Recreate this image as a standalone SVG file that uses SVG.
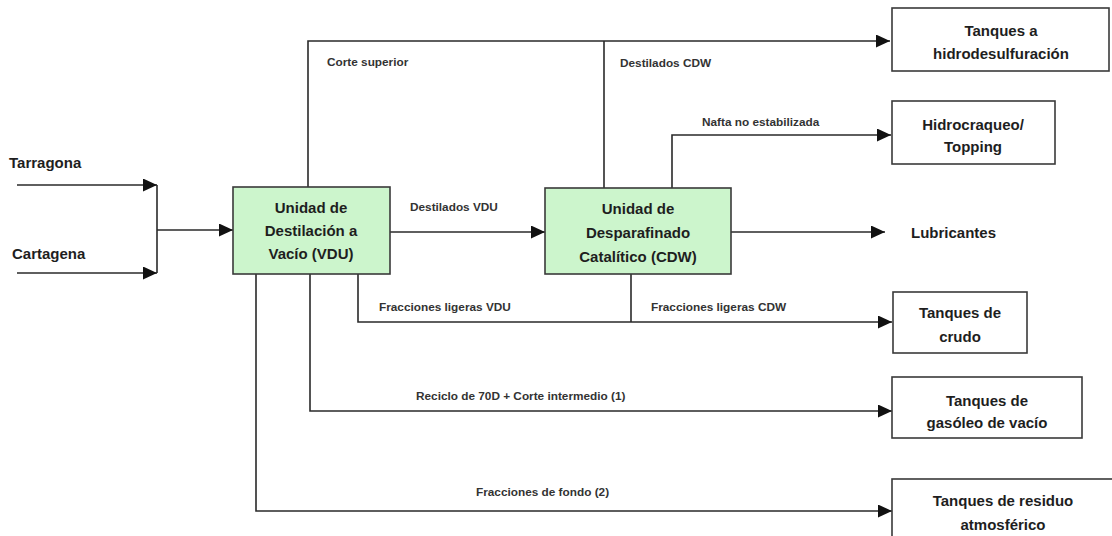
<svg xmlns="http://www.w3.org/2000/svg" width="1112" height="536" viewBox="0 0 1112 536">
<style>
.bg{fill:#ffffff}
.unit{fill:#ccf5cc;stroke:#3a3a3a;stroke-width:1.6}
.tank{fill:#ffffff;stroke:#3a3a3a;stroke-width:1.6}
.big{font-family:"Liberation Sans",Arial,sans-serif;font-weight:bold;font-size:15px;fill:#1e1e1e}
.mid{text-anchor:middle}
.lbl{font-family:"Liberation Sans",Arial,sans-serif;font-weight:bold;font-size:11.8px;fill:#333333}
.ln{fill:none;stroke:#2a2a2a;stroke-width:1.6}
.arr{marker-end:url(#ah)}
</style>
<defs>
<marker id="ah" markerUnits="userSpaceOnUse" markerWidth="16" markerHeight="14" refX="14" refY="6.5" orient="auto">
<path d="M0,0 L14,6.5 L0,13 z" fill="#111111"/>
</marker>
</defs>
<rect class="bg" x="0" y="0" width="1112" height="536"/>
<g id="connectors">
<path class="ln arr" d="M17,185 H157"/>
<path class="ln arr" d="M17,273 H157"/>
<path class="ln" d="M157,185 V273"/>
<path class="ln arr" d="M157,230 H233"/>
<path class="ln arr" d="M308,187 V41 H890"/>
<path class="ln" d="M604,188 V41"/>
<path class="ln arr" d="M390,232 H545"/>
<path class="ln arr" d="M672,188 V135 H891"/>
<path class="ln arr" d="M731,232 H885"/>
<path class="ln arr" d="M358,274 V322 H892"/>
<path class="ln" d="M631,274 V322"/>
<path class="ln arr" d="M310,274 V411 H892"/>
<path class="ln arr" d="M256,274 V511 H892"/>
<text class="lbl" x="327" y="66">Corte superior</text>
<text class="lbl" x="620" y="67">Destilados CDW</text>
<text class="lbl" x="410" y="211">Destilados VDU</text>
<text class="lbl" x="702" y="126">Nafta no estabilizada</text>
<text class="lbl" x="379" y="311">Fracciones ligeras VDU</text>
<text class="lbl" x="651" y="311">Fracciones ligeras CDW</text>
<text class="lbl" x="416" y="400">Reciclo de 70D + Corte intermedio (1)</text>
<text class="lbl" x="476" y="496">Fracciones de fondo (2)</text>
</g>
<g id="tarragona">
<text class="big" x="9" y="168">Tarragona</text>
</g>
<g id="cartagena">
<text class="big" x="12" y="259">Cartagena</text>
</g>
<g id="vdu">
<rect class="unit" x="233" y="187" width="157" height="87"/>
<text class="big mid" x="311" y="213">Unidad de</text>
<text class="big mid" x="311" y="236">Destilación a</text>
<text class="big mid" x="311" y="259">Vacío (VDU)</text>
</g>
<g id="cdw">
<rect class="unit" x="545" y="188" width="186" height="86"/>
<text class="big mid" x="638" y="214">Unidad de</text>
<text class="big mid" x="638" y="238">Desparafinado</text>
<text class="big mid" x="638" y="262">Catalítico (CDW)</text>
</g>
<g id="hidrodesulfuracion">
<rect class="tank" x="892" y="8" width="217" height="63"/>
<text class="big mid" x="1001" y="36">Tanques a</text>
<text class="big mid" x="1001" y="59">hidrodesulfuración</text>
</g>
<g id="hidrocraqueo">
<rect class="tank" x="892" y="101" width="163" height="63"/>
<text class="big mid" x="973" y="130">Hidrocraqueo/</text>
<text class="big mid" x="973" y="152">Topping</text>
</g>
<g id="lubricantes">
<text class="big" x="911" y="238">Lubricantes</text>
</g>
<g id="crudo">
<rect class="tank" x="893" y="292" width="134" height="61"/>
<text class="big mid" x="960" y="318">Tanques de</text>
<text class="big mid" x="960" y="342">crudo</text>
</g>
<g id="gasoleo">
<rect class="tank" x="892" y="377" width="190" height="61"/>
<text class="big mid" x="987" y="406">Tanques de</text>
<text class="big mid" x="987" y="428">gasóleo de vacío</text>
</g>
<g id="residuo">
<rect class="tank" x="892" y="479" width="225" height="70"/>
<text class="big mid" x="1003" y="506">Tanques de residuo</text>
<text class="big mid" x="1003" y="530">atmosférico</text>
</g>
</svg>
